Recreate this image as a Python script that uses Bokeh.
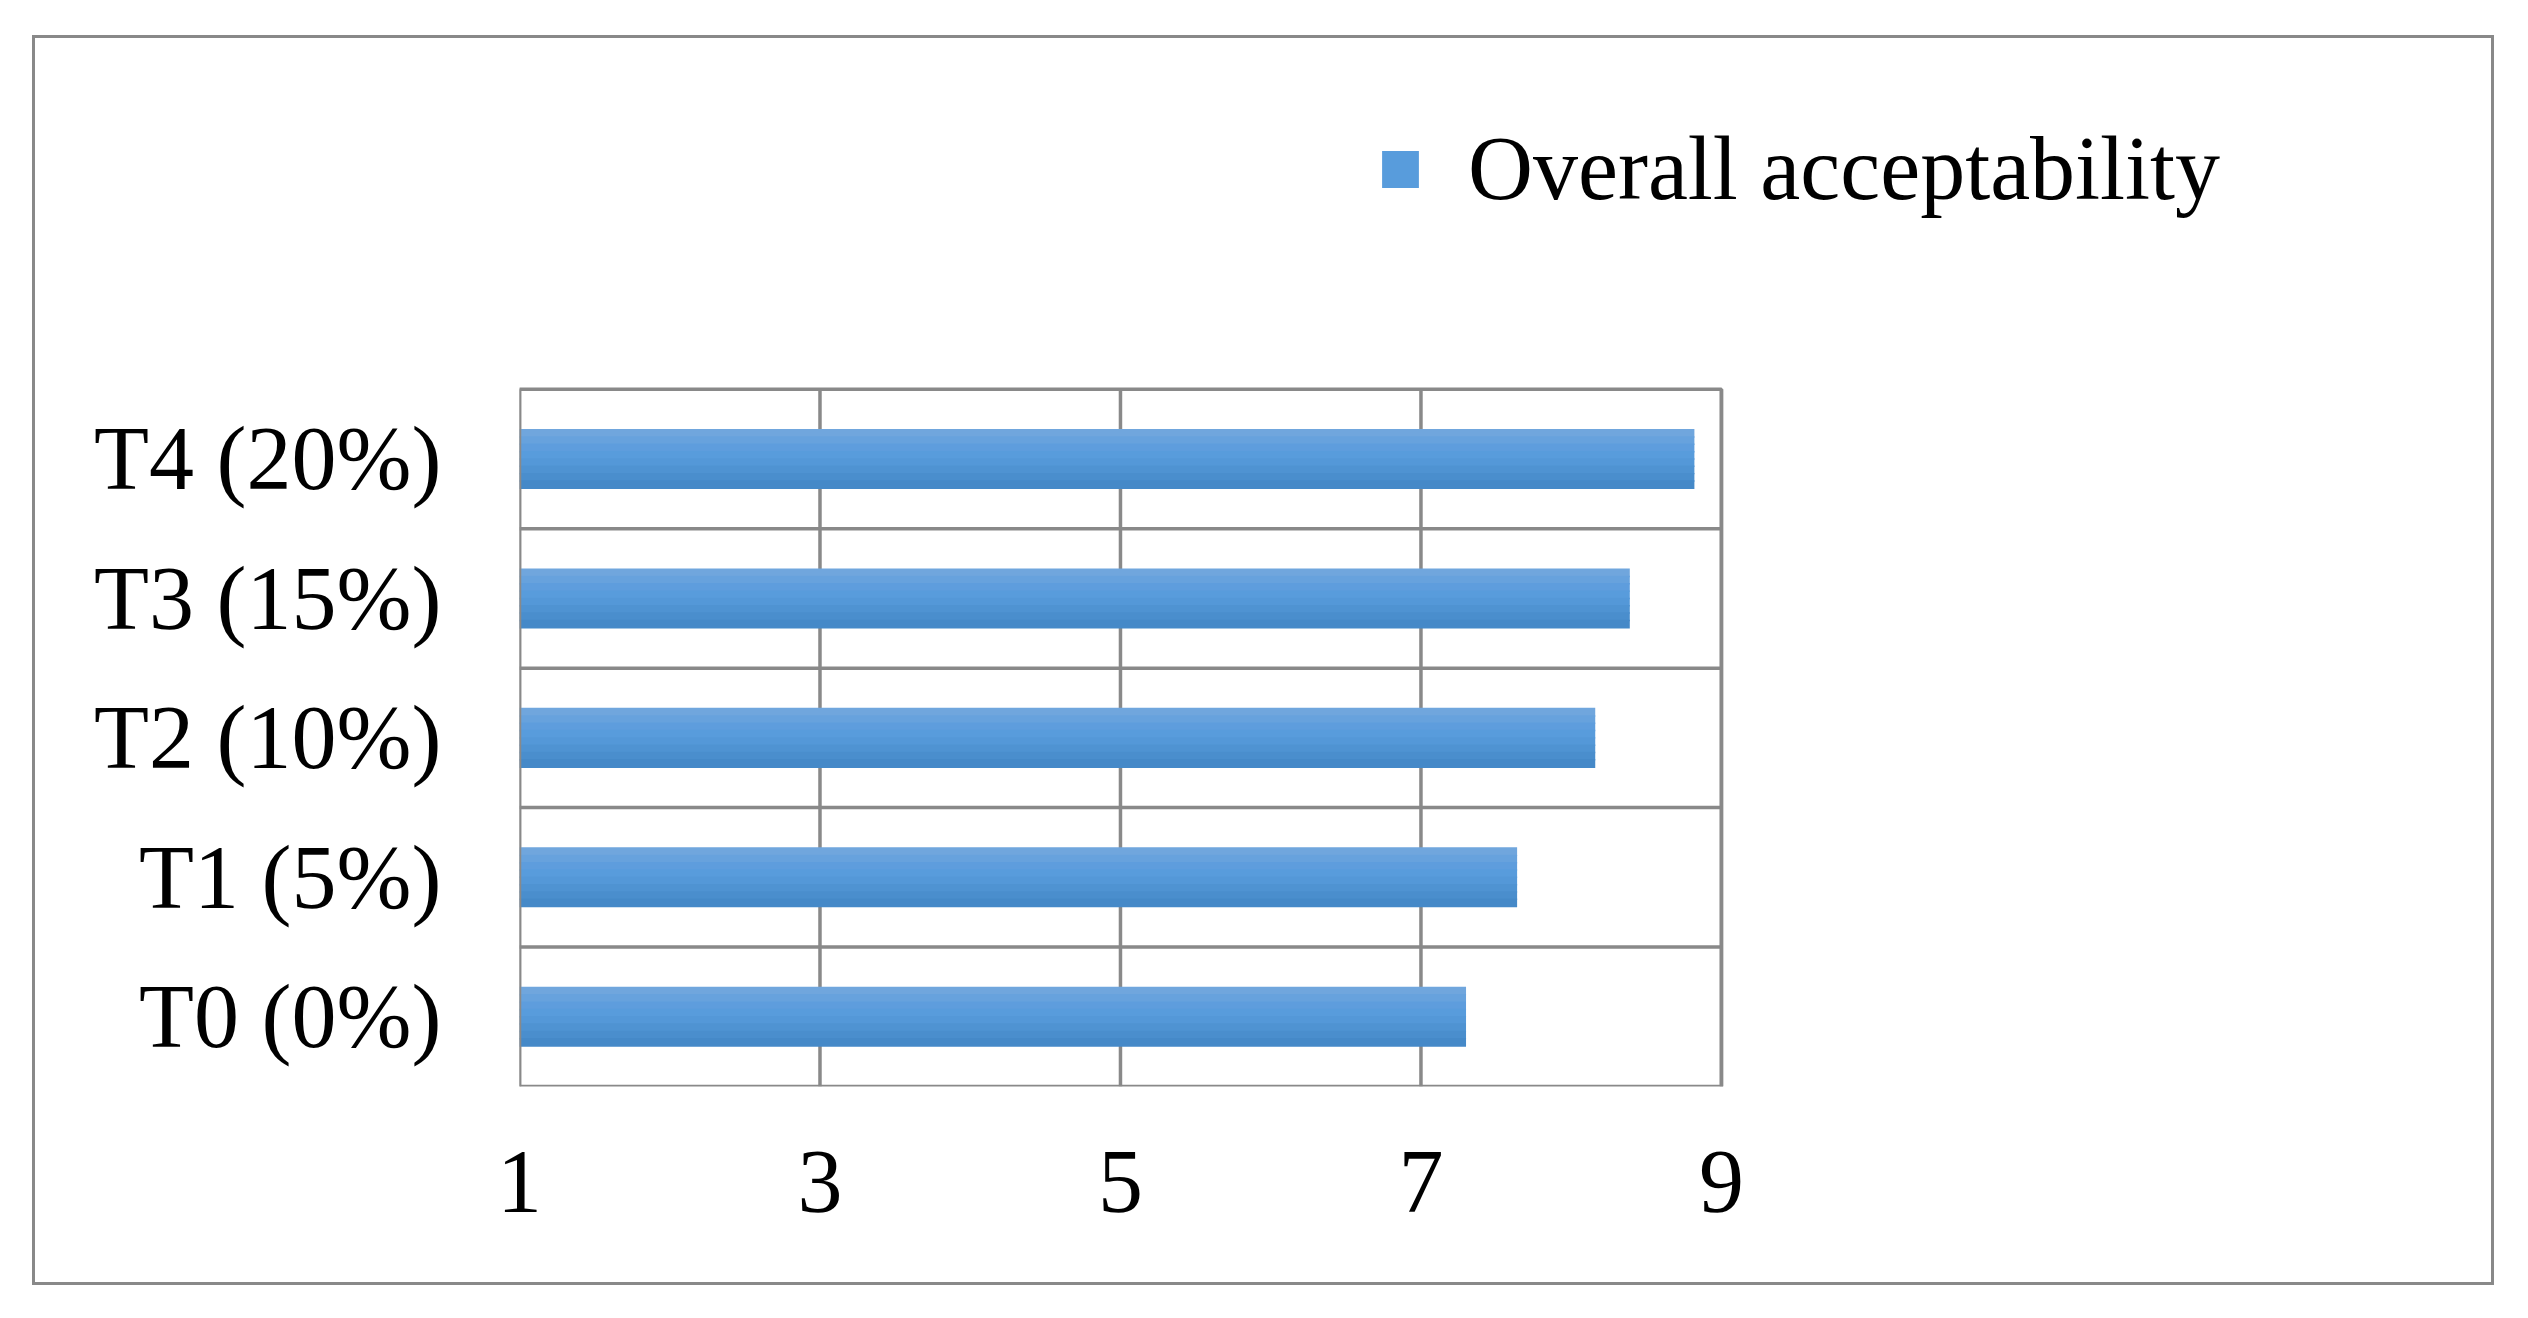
from bokeh.plotting import figure
from bokeh.models import (ColumnDataSource, FixedTicker, Legend, LegendItem,
                          BoxAnnotation)
from bokeh.transform import dodge
from bokeh.embed import file_html
from bokeh.resources import INLINE

# ---- data ----
categories = ["T0 (0%)", "T1 (5%)", "T2 (10%)", "T3 (15%)", "T4 (20%)"]
overall_acceptability = [7.30, 7.64, 8.16, 8.39, 8.82]
x_ticks = [1, 3, 5, 7, 9]
series_name = "Overall acceptability"

FONT = "Liberation Serif"
GRID = "#898989"

x_lo, x_hi = x_ticks[0], x_ticks[-1]
n_cat = len(categories)

# ---- layout (pixels) ----
W, H = 2462, 1250            # outer box incl. 3px CSS border
CW, CH = W - 6, H - 6        # canvas
left_b, bottom_b, top_b, right_b = 484, 202, 60, 150
plot_w, plot_h = 1198, 693   # size of the visible chart box
frame_w = CW - left_b - right_b
frame_h = CH - top_b - bottom_b
x_end = x_lo + (x_hi - x_lo) * frame_w / plot_w
y_end = n_cat * frame_h / plot_h

ypos = [i + 0.5 for i in range(n_cat)]
src = ColumnDataSource(dict(y=ypos, right=overall_acceptability, cat=categories))

p = figure(width=W, height=H, x_range=(x_lo, x_end), y_range=(0, y_end),
           output_backend="svg", toolbar_location=None,
           min_border_left=left_b, min_border_right=right_b,
           min_border_top=top_b, min_border_bottom=bottom_b)
p.margin = (35, 0, 0, 32)
p.styles = {"border": "3px solid #898989"}
p.background_fill_color = "white"
p.border_fill_color = "white"
p.outline_line_color = None
p.grid.visible = False

# grid lines restricted to the chart box (vertical at x ticks, horizontal
# between categories)
vx = x_ticks
p.segment(x0=vx, y0=[0] * len(vx), x1=vx, y1=[n_cat] * len(vx),
          line_color=GRID, line_width=3.5)
hy = list(range(1, n_cat))
p.segment(x0=[x_lo] * len(hy), y0=hy, x1=[x_hi] * len(hy), y1=hy,
          line_color=GRID, line_width=3.5)

# axes
p.xaxis.ticker = FixedTicker(ticks=x_ticks)
p.yaxis.ticker = FixedTicker(ticks=ypos)
p.yaxis.major_label_overrides = {y: c for y, c in zip(ypos, categories)}
for ax in (p.xaxis, p.yaxis):
    ax.axis_line_color = None
    ax.major_tick_line_color = None
    ax.minor_tick_line_color = None
    ax.major_label_text_font = FONT
    ax.major_label_text_font_size = "90px"
    ax.major_label_text_color = "black"
p.yaxis.major_label_standoff = 72
p.xaxis.major_label_standoff = 59

# gradient bars (strips, top light -> bottom dark)
grad = ["#70a6dd", "#67a2dd", "#5e9ddd", "#589cdc", "#5498d8",
        "#4f93d2", "#4a8ecd", "#4589c8"]
bar_h = 0.42
sh = bar_h / len(grad)
renderers = []
for k, col in enumerate(grad):
    off = bar_h / 2 - sh * (k + 0.5)
    r = p.hbar(y=dodge("y", off), left=x_lo, right="right", height=sh * 1.2,
               source=src, fill_color=col, line_color=None)
    renderers.append(r)

# chart box outline
p.add_layout(BoxAnnotation(left=x_lo, right=x_hi, bottom=0, top=n_cat,
                           fill_alpha=0, line_color=GRID, line_alpha=1,
                           line_width=3.5, level="overlay"))

legend = Legend(items=[LegendItem(label=series_name, renderers=[renderers[3]])],
                location=(858, 866), orientation="horizontal",
                glyph_width=46, glyph_height=46, label_standoff=45,
                label_text_font=FONT, label_text_font_size="90px",
                label_text_color="black",
                border_line_color=None, background_fill_alpha=0,
                padding=0, margin=0, spacing=0)
p.add_layout(legend, "center")

open("out.html", "w").write(file_html(p, INLINE))
